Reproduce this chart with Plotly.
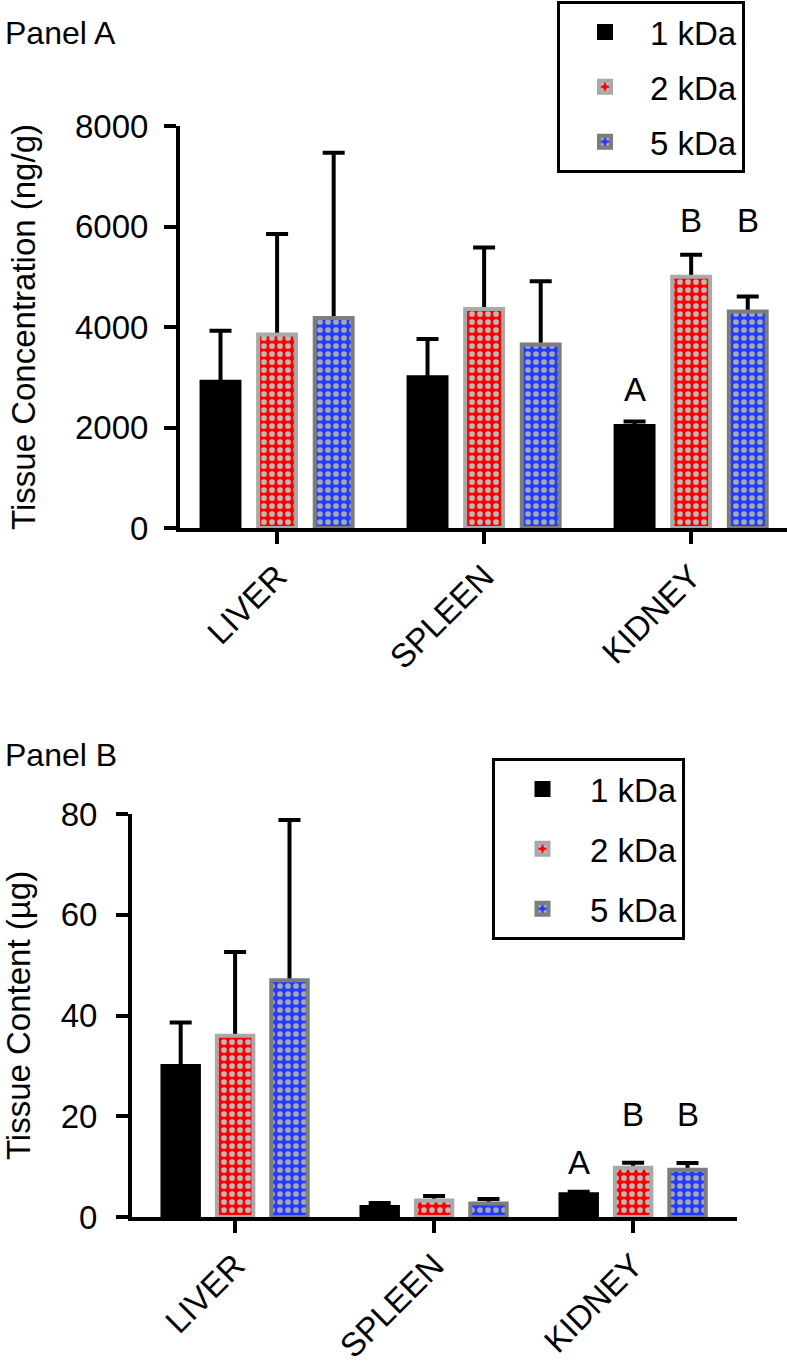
import plotly.graph_objects as go

# ---------------- data ----------------
categories = ["LIVER", "SPLEEN", "KIDNEY"]
series_names = ["1 kDa", "2 kDa", "5 kDa"]

# Panel A: tissue concentration (ng/g), mean and SD
conc_1kda = [2910, 3000, 2030]
conc_2kda = [3850, 4360, 5000]
conc_5kda = [4180, 3650, 4310]
conc_1kda_sd = [1015, 760, 90]
conc_2kda_sd = [2000, 1220, 440]
conc_5kda_sd = [3290, 1260, 295]

# Panel B: tissue content (µg), mean and SD
content_1kda = [30.0, 2.0, 4.5]
content_2kda = [36.0, 3.3, 9.8]
content_5kda = [47.0, 2.7, 9.4]
content_1kda_sd = [8.6, 0.8, 0.5]
content_2kda_sd = [16.6, 0.85, 0.95]
content_5kda_sd = [31.8, 0.85, 1.3]

# significance letters per series (per category)
letters_1kda = ["", "", "A"]
letters_2kda = ["", "", "B"]
letters_5kda = ["", "", "B"]

conc_ticks = [0, 2000, 4000, 6000, 8000]
content_ticks = [0, 20, 40, 60, 80]

# ---------------- style ----------------
FONT = "Liberation Sans, Arial, Helvetica, sans-serif"
FS = 33
W, H = 787, 1365
BARGAP = 0.18
BARGROUPGAP = 0.33
fills = ["#000000", "#ff0000", "#1f3cff"]
outlines = ["#000000", "#a9a9a9", "#7d7d7d"]
dots = [None, "#bcbcbc", "#a8a8b4"]

fig = go.Figure()


def add_panel(xa, ya, legend_name, vals, sds, letters, shifts):
    x = list(range(len(categories)))
    # error bars (drawn first, lower half hidden behind the bars)
    for k in range(3):
        fig.add_trace(go.Bar(
            x=x, y=vals[k], xaxis=xa, yaxis=ya, offsetgroup=str(k),
            marker=dict(color="rgba(0,0,0,0)", line=dict(width=0)),
            error_y=dict(type="data", array=sds[k], symmetric=True,
                         color="black", thickness=4, width=11),
            showlegend=False, hoverinfo="skip"))
    for k in range(3):
        marker = dict(color=fills[k], line=dict(color=outlines[k], width=4))
        if dots[k]:
            marker["pattern"] = dict(shape=".", bgcolor=fills[k], fgcolor=dots[k],
                                     size=8, solidity=0.4, fillmode="replace")
        fig.add_trace(go.Bar(
            x=x, y=vals[k], name=series_names[k], xaxis=xa, yaxis=ya,
            offsetgroup=str(k), legend=legend_name,
            legendgroup=legend_name + str(k), marker=marker))
    slot = (1 - BARGAP) / 3
    # letters
    for k in range(3):
        for i, lab in enumerate(letters[k]):
            if not lab:
                continue
            same = [j for j in range(3) if letters[j][i] == lab]
            ytop = max(vals[j][i] + sds[j][i] for j in same)
            fig.add_annotation(x=i + (k - 1) * slot, y=ytop, xref=xa, yref=ya,
                               text=lab, showarrow=False, xanchor="center",
                               yanchor="bottom", yshift=shifts[lab],
                               font=dict(family=FONT, size=FS, color="black"))


add_panel("x", "y", "legend",
          [conc_1kda, conc_2kda, conc_5kda],
          [conc_1kda_sd, conc_2kda_sd, conc_5kda_sd],
          [letters_1kda, letters_2kda, letters_5kda],
          {"A": 11, "B": 14})
add_panel("x2", "y2", "legend2",
          [content_1kda, content_2kda, content_5kda],
          [content_1kda_sd, content_2kda_sd, content_5kda_sd],
          [letters_1kda, letters_2kda, letters_5kda],
          {"A": 9, "B": 28})


def px_x(p):
    return p / W


def px_y(p):
    return 1 - p / H


axis_common = dict(showline=True, linewidth=4, linecolor="black", ticks="outside",
                   ticklen=12, tickwidth=4, tickcolor="black", showgrid=False,
                   zeroline=False, automargin=False,
                   tickfont=dict(family=FONT, size=FS, color="black"))

fig.update_layout(
    width=W, height=H, autosize=False,
    margin=dict(l=0, r=0, t=0, b=0),
    paper_bgcolor="white", plot_bgcolor="white",
    barmode="group", bargap=BARGAP, bargroupgap=BARGROUPGAP,
    font=dict(family=FONT, size=FS, color="black"),
    xaxis=dict(domain=[px_x(180), px_x(787)], range=[-0.469, 2.463],
               tickmode="array", tickvals=[0, 1, 2], ticktext=categories,
               tickangle=-45, anchor="y", **axis_common),
    yaxis=dict(domain=[px_y(528), px_y(126)], range=[0, 8000],
               tickmode="array", tickvals=conc_ticks, anchor="x",
               ticklabelstandoff=9,
               title=dict(text="Tissue Concentration (ng/g)", standoff=30,
                          font=dict(family=FONT, size=FS)),
               **axis_common),
    xaxis2=dict(domain=[px_x(132), px_x(737)], range=[-0.518, 2.522],
                tickmode="array", tickvals=[0, 1, 2], ticktext=categories,
                tickangle=-45, anchor="y2", **axis_common),
    yaxis2=dict(domain=[px_y(1217), px_y(814)], range=[0, 80],
                tickmode="array", tickvals=content_ticks, anchor="x2",
                ticklabelstandoff=12,
                title=dict(text="Tissue Content (µg)", standoff=30,
                           font=dict(family=FONT, size=FS)),
                **axis_common),
    legend=dict(x=px_x(557), y=px_y(1), xanchor="left", yanchor="top",
                bordercolor="black", borderwidth=3, bgcolor="white",
                itemwidth=80, tracegroupgap=9, traceorder="grouped",
                entrywidth=105, entrywidthmode="pixels",
                font=dict(family=FONT, size=FS, color="black")),
    legend2=dict(x=px_x(492), y=px_y(758), xanchor="left", yanchor="top",
                 bordercolor="black", borderwidth=3, bgcolor="white",
                 itemwidth=85, tracegroupgap=14, traceorder="grouped",
                 entrywidth=125, entrywidthmode="pixels",
                 font=dict(family=FONT, size=FS, color="black")),
)

fig.add_annotation(x=px_x(3), y=px_y(33), xref="paper", yref="paper",
                   text="Panel A", showarrow=False, xanchor="left", yanchor="middle",
                   font=dict(family=FONT, size=32, color="black"))
fig.add_annotation(x=px_x(3), y=px_y(755), xref="paper", yref="paper",
                   text="Panel B", showarrow=False, xanchor="left", yanchor="middle",
                   font=dict(family=FONT, size=32, color="black"))

fig.write_html("out.html",
               config={"displayModeBar": False},
               post_script="document.body.style.margin='0';")
